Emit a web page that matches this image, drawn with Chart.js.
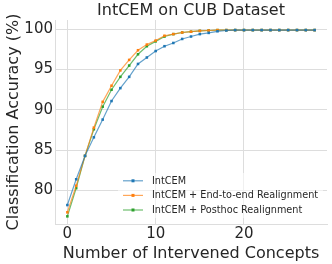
<!DOCTYPE html>
<html><head><meta charset="utf-8">
<script src="https://cdn.jsdelivr.net/npm/chart.js@4.4.0/dist/chart.umd.min.js"></script>
<style>html,body{margin:0;padding:0;background:#fff}#w{width:332px;height:264px}</style>
</head><body><div id="w"><canvas id="c" width="332" height="264"></canvas></div>
<script>
const interventions = Array.from({length: 29}, (_, i) => i);
const intcem = [78.2,81.4,84.3,86.6,88.8,91.1,92.7,94.1,95.7,96.5,97.3,97.9,98.3,98.8,99.1,99.4,99.55,99.75,99.85,99.9,99.9,99.9,99.9,99.9,99.9,99.9,99.9,99.9,99.9];
const endToEnd = [77.3,80.6,84.3,87.8,91.0,93.0,94.9,96.2,97.4,98.1,98.6,99.2,99.4,99.6,99.7,99.8,99.85,99.9,99.9,99.9,99.9,99.9,99.9,99.9,99.9,99.9,99.9,99.9,99.9];
const posthoc = [76.8,80.3,84.3,87.6,90.4,92.5,94.1,95.5,96.9,97.9,98.5,99.1,99.4,99.6,99.7,99.8,99.85,99.9,99.9,99.9,99.9,99.9,99.9,99.9,99.9,99.9,99.9,99.9,99.9];
const seriesNames = ['IntCEM','IntCEM + End-to-end Realignment','IntCEM + Posthoc Realignment'];
const seriesColors = ['#1f77b4','#ff7f0e','#2ca02c'];
const xTicks = [0,10,20];
const yTicks = [80,85,90,95,100];
const titleText = 'IntCEM on CUB Dataset';
const FONT = "'DejaVu Sans', sans-serif";

function mk(name, vals, col){
  return {label:name, data: vals.map((v,i)=>({x:interventions[i], y:v})),
    borderColor: col+'b0', backgroundColor: col, pointBackgroundColor: col, pointBorderColor: col,
    borderWidth: 1.2, pointStyle:'rect', pointRadius: 1.8, pointBorderWidth:0, tension:0};
}
const decorPlugin = {
  id:'decor',
  afterDraw(chart){
    const ctx = chart.ctx, ca = chart.chartArea;
    ctx.save();
    ctx.fillStyle = '#262626';
    ctx.font = '16px ' + FONT;
    ctx.textAlign = 'center'; ctx.textBaseline = 'middle';
    ctx.fillText(titleText, (ca.left+ca.right)/2, 10.5);
    // legend (no frame, translucent white background)
    ctx.textAlign = 'left';
    ctx.fillStyle = 'rgba(255,255,255,0.55)';
    ctx.fillRect(118, 173, 205, 45);
    ctx.font = '9.7px ' + FONT;
    chart.data.datasets.forEach((ds,i)=>{
      const y = 180.8 + i*14.6;
      ctx.strokeStyle = ds.borderColor; ctx.lineWidth = 1.2;
      ctx.beginPath(); ctx.moveTo(123,y); ctx.lineTo(143,y); ctx.stroke();
      ctx.fillStyle = ds.backgroundColor; ctx.fillRect(131.5,y-1.5,3,3);
      ctx.fillStyle = '#262626';
      ctx.fillText(ds.label, 152, y+0.5);
    });
    ctx.restore();
  }
};
new Chart(document.getElementById('c'), {
  type:'line',
  data:{datasets:[mk(seriesNames[0],intcem,seriesColors[0]), mk(seriesNames[1],endToEnd,seriesColors[1]), mk(seriesNames[2],posthoc,seriesColors[2])]},
  options:{
    responsive:false, animation:false, devicePixelRatio:1,
    layout:{padding:{left:0,right:5,top:20,bottom:0}},
    plugins:{ legend:{display:false}, tooltip:{enabled:false}, title:{display:false} },
    scales:{
      x:{type:'linear', min:-1.4, max:29.4,
        afterBuildTicks(s){ s.ticks = xTicks.map(v=>({value:v})); },
        afterFit(s){ s.height = 40; },
        grid:{color:'#dddddd', drawTicks:false}, border:{color:'#dddddd'},
        ticks:{color:'#262626', font:{family:FONT,size:15}, padding:1, maxRotation:0},
        title:{display:true, text:'Number of Intervened Concepts', color:'#262626', font:{family:FONT,size:16}, padding:{top:0,bottom:1}}
      },
      y:{min:75.85, max:101.15,
        afterBuildTicks(s){ s.ticks = yTicks.map(v=>({value:v})); },
        afterFit(s){ s.width = 55; },
        grid:{color:'#dddddd', drawTicks:false}, border:{color:'#dddddd'},
        ticks:{color:'#262626', font:{family:FONT,size:15}, padding:2},
        title:{display:true, text:'Classification Accuracy (%)', color:'#262626', font:{family:FONT,size:16}, padding:{top:4,bottom:0}}
      }
    }
  },
  plugins:[decorPlugin]
});
</script></body></html>
